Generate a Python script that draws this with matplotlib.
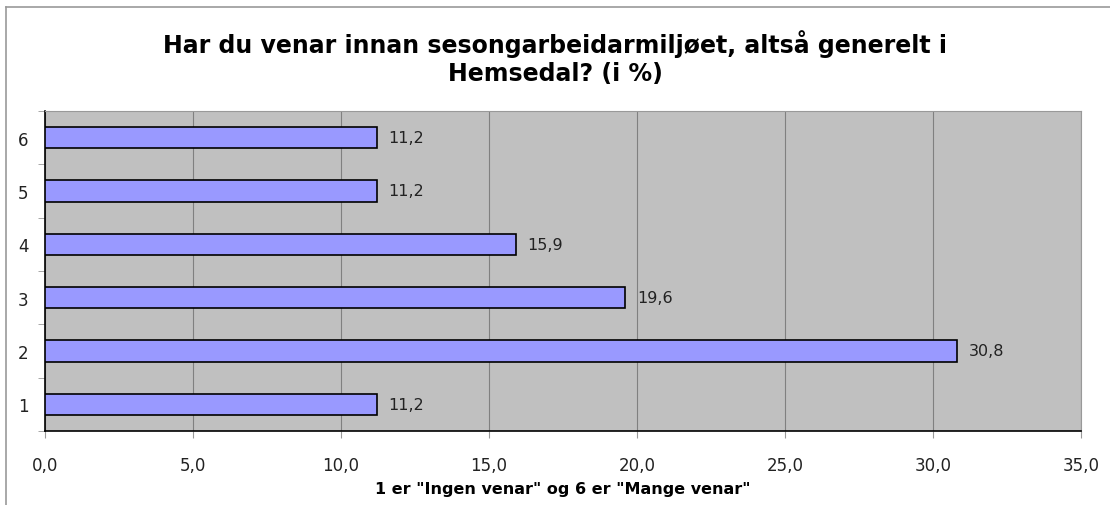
import matplotlib
matplotlib.use("Agg")
import matplotlib.pyplot as plt
from matplotlib.lines import Line2D
from matplotlib.ticker import FixedLocator

categories = ["1", "2", "3", "4", "5", "6"]
values = [11.2, 30.8, 19.6, 15.9, 11.2, 11.2]
xticks = [0, 5, 10, 15, 20, 25, 30, 35]

plt.rcParams['font.family'] = ['DejaVu Sans']

fig = plt.figure(figsize=(11.1, 5.06), dpi=100)
ax = fig.add_axes([45 / 1110, 1 - 432 / 506, 1036 / 1110, 320 / 506])

pos = range(len(categories))
ax.barh(pos, values, height=0.4, color='#9999FF', edgecolor='black',
        linewidth=1.2, zorder=3)
for p, v in zip(pos, values):
    ax.text(v + 0.4, p, ('%.1f' % v).replace('.', ','), va='center',
            ha='left', fontsize=11.5, color='#222222')

ax.set_facecolor('#C0C0C0')
ax.set_xlim(0, 35)
ax.set_ylim(-0.5, len(categories) - 0.5)
ax.set_xticks(xticks)
ax.set_xticklabels([('%.1f' % t).replace('.', ',') for t in xticks], fontsize=12,
                   color='#222222')
ax.set_yticks(list(pos))
ax.set_yticklabels(categories, fontsize=12, color='#222222')
ax.tick_params(axis='y', length=0, pad=12)
ax.tick_params(axis='x', length=5, color='#999999', pad=13)
ax.yaxis.set_minor_locator(FixedLocator([i - 0.5 for i in range(len(categories) + 1)]))
ax.tick_params(axis='y', which='minor', length=5, color='#999999')
ax.grid(axis='x', color='#808080', linewidth=0.8, zorder=0)
for s in ['top', 'right']:
    ax.spines[s].set_color('#999999')
    ax.spines[s].set_linewidth(0.8)
for s in ['left', 'bottom']:
    ax.spines[s].set_color('black')
    ax.spines[s].set_linewidth(1.2)

ax.set_xlabel('1 er "Ingen venar" og 6 er "Mange venar"', fontsize=11.5,
              fontweight='bold', labelpad=5)

fig.text(0.5, 1 - 58 / 506, 'Har du venar innan sesongarbeidarmiljøet, altså generelt i\nHemsedal? (i %)',
         ha='center', va='center', fontsize=17, fontweight='bold',
         linespacing=1.25)

# outer chart border (top and left visible)
fig.add_artist(Line2D([6 / 1110, 6 / 1110], [0, 1 - 8 / 506], color='#999999',
                      linewidth=1.2, transform=fig.transFigure))
fig.add_artist(Line2D([6 / 1110, 1], [1 - 8 / 506, 1 - 8 / 506], color='#999999',
                      linewidth=1.2, transform=fig.transFigure))

fig.savefig('out.png', dpi=100)
